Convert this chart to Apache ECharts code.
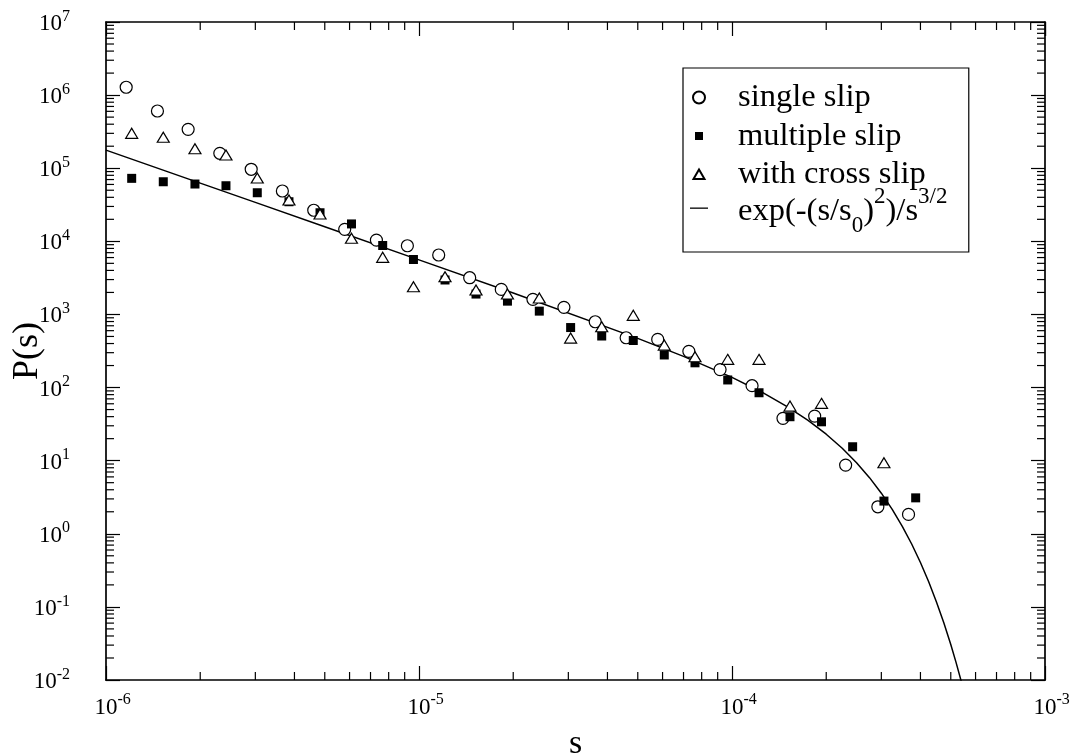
<!DOCTYPE html>
<html>
<head>
<meta charset="utf-8">
<title>P(s)</title>
<script src="https://cdn.jsdelivr.net/npm/echarts@6/dist/echarts.min.js"></script>
<style>
html, body { margin: 0; padding: 0; background: #fff; }
#chart { width: 1072px; height: 754px; }
</style>
</head>
<body>
<div id="chart"></div>
<script>
// single slip (open circles)
const singleS = [1.16e-6, 1.46e-6, 1.83e-6, 2.31e-6, 2.91e-6, 3.66e-6, 4.61e-6, 5.79e-6, 7.31e-6, 9.18e-6,
  1.156e-5, 1.452e-5, 1.832e-5, 2.312e-5, 2.904e-5, 3.656e-5, 4.59e-5, 5.79e-5, 7.28e-5, 9.16e-5,
  1.159e-4, 1.455e-4, 1.837e-4, 2.307e-4, 2.924e-4, 3.664e-4];
const singleP = [1.28e6, 6.06e5, 3.40e5, 1.60e5, 9.67e4, 4.88e4, 2.66e4, 1.46e4, 1.04e4, 8.7e3,
  6.5e3, 3.18e3, 2.2e3, 1.61e3, 1.25e3, 794, 480, 456, 313, 176,
  106, 37.9, 40.7, 8.7, 2.34, 1.84];

// multiple slip (filled squares)
const multiS = [1.208e-6, 1.524e-6, 1.924e-6, 2.417e-6, 3.043e-6, 3.842e-6, 4.828e-6, 6.085e-6, 7.656e-6, 9.6e-6,
  1.211e-5, 1.521e-5, 1.917e-5, 2.423e-5, 3.051e-5, 3.835e-5, 4.837e-5, 6.076e-5, 7.617e-5, 9.69e-5,
  1.22e-4, 1.532e-4, 1.932e-4, 2.429e-4, 3.058e-4, 3.862e-4];
const multiP = [7.27e4, 6.53e4, 6.08e4, 5.76e4, 4.62e4, 3.48e4, 2.46e4, 1.73e4, 8.77e3, 5.64e3,
  2.96e3, 1.9e3, 1.52e3, 1.11e3, 662, 507, 440, 279, 218, 127,
  84.9, 39.9, 34.0, 15.5, 2.8, 3.1];

// with cross slip (open triangles)
const crossS = [1.208e-6, 1.524e-6, 1.924e-6, 2.417e-6, 3.043e-6, 3.842e-6, 4.828e-6, 6.085e-6, 7.656e-6, 9.6e-6,
  1.211e-5, 1.521e-5, 1.917e-5, 2.423e-5, 3.051e-5, 3.835e-5, 4.837e-5, 6.076e-5, 7.617e-5, 9.69e-5,
  1.22e-4, 1.532e-4, 1.932e-4, 3.058e-4];
const crossP = [3.0e5, 2.65e5, 1.85e5, 1.52e5, 7.35e4, 3.67e4, 2.36e4, 1.1e4, 6.04e3, 2.39e3,
  3.28e3, 2.16e3, 1.9e3, 1.68e3, 475, 679, 972, 381, 264, 243,
  243, 55.8, 60.8, 9.36];

// fitted curve
const fitS = [1e-6, 2e-6, 3e-6, 5e-6, 1e-5, 2e-5, 5e-5, 7e-5, 1e-4, 1.25e-4, 1.5e-4, 1.75e-4, 2e-4,
  2.25e-4, 2.5e-4, 2.75e-4, 3e-4, 3.25e-4, 3.5e-4, 3.75e-4, 4e-4, 4.25e-4, 4.5e-4, 4.75e-4, 5e-4, 5.2e-4, 5.4e-4];
const fitP = [1.77e5, 6.26e4, 3.41e4, 1.58e4, 5.58e3, 1.96e3, 470, 267, 138, 85.7, 54.9, 35.6, 23.0,
  14.8, 9.39, 5.86, 3.59, 2.155, 1.264, 0.725, 0.405, 0.221, 0.117, 0.0607, 0.0306, 0.0173, 0.0096];

// decades shown on the axes and the minor tick multipliers
const xDecades = [-6, -5, -4];
const yDecades = [-2, -1, 0, 1, 2, 3, 4, 5, 6];
const minorMult = [2, 3, 4, 5, 6, 7, 8, 9];

const FONT = 'Liberation Serif, DejaVu Serif, serif';
const pair = (xs, ys) => xs.map((x, i) => [x, ys[i]]);

const xMinor = [];
xDecades.forEach(d => minorMult.forEach(m => xMinor.push([m * Math.pow(10, d), 1])));
const yMinor = [];
yDecades.forEach(d => minorMult.forEach(m => yMinor.push([1e-5, m * Math.pow(10, d)])));

const tickStyle = { stroke: '#000', lineWidth: 1.2 };
const minorLen = 8;

function xMinorTick(params, api) {
  const cs = params.coordSys;
  const x = api.coord([api.value(0), api.value(1)])[0];
  const b = cs.y + cs.height;
  return { type: 'group', children: [
    { type: 'line', shape: { x1: x, y1: b, x2: x, y2: b - minorLen }, style: tickStyle },
    { type: 'line', shape: { x1: x, y1: cs.y, x2: x, y2: cs.y + minorLen }, style: tickStyle }
  ] };
}
function yMinorTick(params, api) {
  const cs = params.coordSys;
  const y = api.coord([api.value(0), api.value(1)])[1];
  const r = cs.x + cs.width;
  return { type: 'group', children: [
    { type: 'line', shape: { x1: cs.x, y1: y, x2: cs.x + minorLen, y2: y }, style: tickStyle },
    { type: 'line', shape: { x1: r, y1: y, x2: r - minorLen, y2: y }, style: tickStyle }
  ] };
}

const expOf = v => Math.round(Math.log10(v));
const supRich = {
  b: { fontFamily: FONT, fontSize: 23, color: '#000', verticalAlign: 'bottom' },
  s: { fontFamily: FONT, fontSize: 16, color: '#000', verticalAlign: 'bottom', padding: [0, 0, 11, 0] },
  sp: { fontFamily: FONT, fontSize: 16, color: 'transparent', verticalAlign: 'bottom', padding: [0, 0, 11, 0] }
};
const axisLine = { show: true, lineStyle: { color: '#000', width: 1.7 } };
const majorTick = { show: true, inside: true, length: 14, lineStyle: { color: '#000', width: 1.2 } };

const legendText = {
  fontFamily: FONT, fontSize: 32.5, color: '#000',
  rich: {
    n: { fontFamily: FONT, fontSize: 32.5, color: '#000', lineHeight: 33, padding: [0, 0, 0, 24] },
    e: { fontFamily: FONT, fontSize: 32.5, color: '#000', lineHeight: 34, verticalAlign: 'middle', padding: [0, 0, 0, 24] },
    u: { fontFamily: FONT, fontSize: 32.5, color: '#000', lineHeight: 34, verticalAlign: 'middle' },
    sub: { fontFamily: FONT, fontSize: 23, color: '#000', lineHeight: 23, verticalAlign: 'middle', padding: [29, 0, 0, 0] },
    sup: { fontFamily: FONT, fontSize: 23, color: '#000', lineHeight: 23, verticalAlign: 'middle', padding: [0, 0, 29, 0] }
  }
};
const legendLabel = name => name === 'fit'
  ? '{e|exp(-(s/s}{sub|0}{u|)}{sup|2}{u|)/s}{sup|3/2}'
  : '{n|' + name + '}';

const chart = echarts.init(document.getElementById('chart'));
chart.setOption({
  animation: false,
  backgroundColor: '#fff',
  grid: { left: 106, top: 22, right: 27, bottom: 74, outerBoundsMode: 'none' },
  xAxis: [{
    type: 'log', logBase: 10, min: 1e-6, max: 1e-3, splitNumber: 3,
    axisLine, axisTick: majorTick, splitLine: { show: false },
    axisLabel: {
      margin: 12, showMinLabel: true, showMaxLabel: true,
      formatter: v => '{sp|' + expOf(v) + '}{b|10}{s|' + expOf(v) + '}', rich: supRich
    },
    name: 's', nameLocation: 'middle', nameGap: 47, nameMoveOverlap: false,
    nameTextStyle: { fontFamily: FONT, fontSize: 34, color: '#000' }
  }, {
    type: 'log', logBase: 10, min: 1e-6, max: 1e-3, splitNumber: 3, position: 'top',
    axisLine, axisTick: majorTick, axisLabel: { show: false }, splitLine: { show: false }
  }],
  yAxis: [{
    type: 'log', logBase: 10, min: 1e-2, max: 1e7, splitNumber: 9,
    axisLine, axisTick: majorTick, splitLine: { show: false },
    axisLabel: {
      margin: 36, showMinLabel: true, showMaxLabel: true,
      formatter: v => '{b|10}{s|' + expOf(v) + '}', rich: supRich
    },
    name: 'P(s)', nameLocation: 'middle', nameGap: 60, nameMoveOverlap: false,
    nameTextStyle: { fontFamily: FONT, fontSize: 36, color: '#000' }
  }, {
    type: 'log', logBase: 10, min: 1e-2, max: 1e7, splitNumber: 9, position: 'right',
    axisLine, axisTick: majorTick, axisLabel: { show: false }, splitLine: { show: false }
  }],
  legend: [{
    // framed box with the three data sets; the fit entry sits in its lower part
    orient: 'vertical', left: 683, top: 68,
    padding: [13, 43, 61, 9],
    itemWidth: 20, itemHeight: 12, itemGap: 5.5,
    borderColor: '#000', borderWidth: 1.2, borderRadius: 0,
    backgroundColor: '#fff', selectedMode: false,
    data: [
      { name: 'single slip' },
      { name: 'multiple slip', icon: 'path://M0,0M12,12M2,2h8v8h-8z' },
      { name: 'with cross slip', icon: 'path://M0,0M12,12M6,1L11.5,10.5H0.5Z' }
    ],
    formatter: legendLabel, textStyle: legendText
  }, {
    orient: 'vertical', left: 689, top: 185.5, padding: 0,
    itemWidth: 20, itemHeight: 12, selectedMode: false,
    data: [{ name: 'fit', icon: 'path://M0,0M20,12M1,2h18v1.3h-18z' }],
    formatter: legendLabel, textStyle: legendText
  }],
  series: [
    {
      name: 'xMinor', type: 'custom', renderItem: xMinorTick, data: xMinor, silent: true, z: 1
    },
    {
      name: 'yMinor', type: 'custom', renderItem: yMinorTick, data: yMinor, silent: true, z: 1
    },
    {
      name: 'fit', type: 'line', data: pair(fitS, fitP), symbol: 'none', clip: true,
      lineStyle: { color: '#000', width: 1.5 }, itemStyle: { color: '#000' }, z: 2
    },
    {
      name: 'single slip', type: 'scatter', data: pair(singleS, singleP),
      symbol: 'circle', symbolSize: 12,
      itemStyle: { color: '#fff', borderColor: '#000', borderWidth: 1.2, opacity: 1 }, z: 3
    },
    {
      name: 'multiple slip', type: 'scatter', data: pair(multiS, multiP),
      symbol: 'rect', symbolSize: 9,
      itemStyle: { color: '#000', borderColor: '#000', borderWidth: 0, opacity: 1 }, z: 4
    },
    {
      name: 'with cross slip', type: 'scatter', data: pair(crossS, crossP),
      symbol: 'triangle', symbolSize: [12, 10],
      itemStyle: { color: '#fff', borderColor: '#000', borderWidth: 1.2, opacity: 1 }, z: 5
    }
  ]
});
</script>
</body>
</html>
